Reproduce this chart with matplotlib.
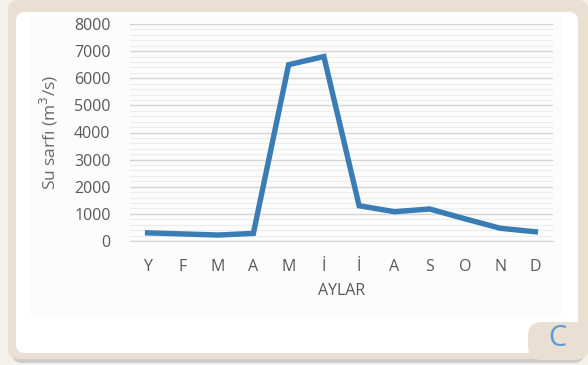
import matplotlib.pyplot as plt
from matplotlib.patches import FancyBboxPatch
from matplotlib.ticker import MultipleLocator

# monthly discharge of the river (m3/s)
aylar = ["Y", "F", "M", "A", "M", "İ", "İ", "A", "S", "O", "N", "D"]
sarf = [300, 260, 220, 280, 6500, 6800, 1300, 1080, 1180, 820, 470, 340]
y_ticks = [0, 1000, 2000, 3000, 4000, 5000, 6000, 7000, 8000]

plt.rcParams['font.family'] = ['Open Sans', 'DejaVu Sans']
W, H = 588, 365
fig = plt.figure(figsize=(W / 100, H / 100), dpi=100)
fig.patch.set_facecolor('#f4f1ea')

# card frame drawn in pixel coordinates
bg = fig.add_axes([0, 0, 1, 1])
bg.set_xlim(0, W)
bg.set_ylim(H, 0)
bg.axis('off')
bg.add_patch(FancyBboxPatch((12, 4), W - 16, H - 6, boxstyle="round,pad=0,rounding_size=10",
                            fc='#cfcdc9', ec='none'))
bg.add_patch(FancyBboxPatch((8, 0), W - 8, H - 6, boxstyle="round,pad=0,rounding_size=10",
                            fc='#e9dfd3', ec='none'))
bg.add_patch(FancyBboxPatch((16, 12), 562, 341, boxstyle="round,pad=0,rounding_size=9",
                            fc='white', ec='none'))
bg.add_patch(FancyBboxPatch((30, 16), 532, 302, boxstyle="square,pad=0",
                            fc='#fcfcfc', ec='none'))
bg.add_patch(FancyBboxPatch((528, 322), 60, 38, boxstyle="round,pad=0,rounding_size=14",
                            fc='#e9dfd3', ec='none'))
bg.text(557, 339, "C", color='#5b9bd5', fontsize=21, ha='center', va='center')

ax = fig.add_axes([130 / W, 1 - 241 / H, (553 - 130) / W, (241 - 24) / H])
ax.set_facecolor('none')
x = range(len(aylar))
ax.plot(x, sarf, color='#3a7db4', lw=3.9, solid_joinstyle='miter', zorder=3)

ax.set_xlim(-0.5, len(aylar) - 0.5)
ax.set_ylim(0, 8000)
ax.set_yticks(y_ticks)
ax.yaxis.set_minor_locator(MultipleLocator(200))
ax.set_xticks(list(x))
ax.set_xticklabels(aylar)
ax.grid(axis='y', which='major', color='#d4d4d4', lw=1.0)
ax.grid(axis='y', which='minor', color='#ececec', lw=0.8)
ax.set_axisbelow(True)
for s in ['top', 'right', 'left']:
    ax.spines[s].set_visible(False)
ax.spines['bottom'].set_color('#d4d4d4')
ax.tick_params(axis='both', which='both', length=0, labelcolor='#595959', labelsize=11.5)
ax.tick_params(axis='y', pad=14)
ax.tick_params(axis='x', pad=13)
ax.set_xlabel("AYLAR", color='#595959', fontsize=11.5, labelpad=6)
ax.set_ylabel("Su sarfı (m$^3$/s)", color='#6a6a6a', fontsize=12.5)
ax.yaxis.set_label_coords(-0.165, 0.5)

fig.savefig('out.png', dpi=100, facecolor=fig.get_facecolor())
